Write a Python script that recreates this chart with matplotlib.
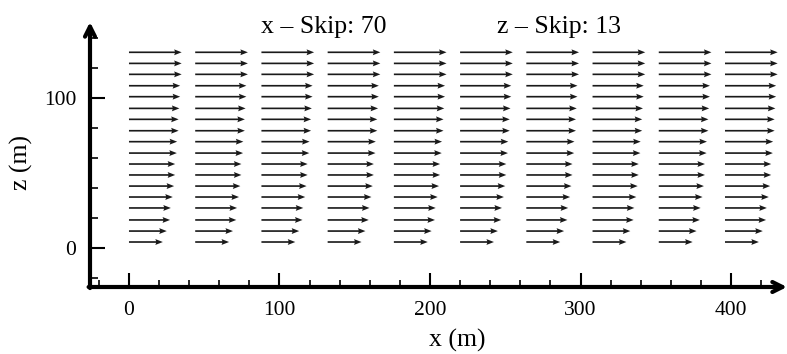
import numpy as np
import matplotlib.pyplot as plt
from matplotlib.ticker import MultipleLocator

# column positions (m) and row heights (m)
x_cols = [0, 44, 88, 132, 176, 220, 264, 308, 352, 396]
z_rows = [130.5, 123.1, 115.8, 108.2, 100.9, 93.1, 85.8, 78.2, 70.9,
          63.3, 56.0, 48.7, 41.3, 34.0, 26.7, 18.7, 11.3, 4.0]
# arrow length per row (m), top to bottom
u_rows = [35, 35, 35, 34, 34, 33.5, 33, 33, 32,
          31.8, 30.7, 30.7, 30, 29.1, 27.8, 27.3, 25.1, 22.5]
x_ticks = [0, 100, 200, 300, 400]
z_ticks = [0, 100]

plt.rcParams['font.family'] = ['Liberation Serif', 'DejaVu Serif']

fig = plt.figure(figsize=(7.87, 3.54), dpi=100)
ax = fig.add_axes([90/787, 1-287/354, 697/787, 265/354])

X, Z = np.meshgrid(x_cols, z_rows)
U = np.repeat(np.array(u_rows)[:, None], len(x_cols), axis=1)
V = np.zeros_like(U)
ax.quiver(X, Z, U, V, angles='xy', scale_units='xy', scale=1,
          width=0.0024, headwidth=3.5, headlength=4.5, headaxislength=4,
          color='#1a1a1a')

ax.set_xlim(-25.9, 437.2)
ax.set_ylim(-26, 150.7)

for s in ax.spines.values():
    s.set_visible(False)

# axis lines with arrow heads
ax.annotate('', xy=(1.0, 0), xytext=(-0.002, 0), xycoords='axes fraction',
            arrowprops=dict(arrowstyle='->', lw=3, color='black', mutation_scale=18,
                            shrinkA=0, shrinkB=0))
ax.annotate('', xy=(0, 1.0), xytext=(0, -0.004), xycoords='axes fraction',
            arrowprops=dict(arrowstyle='->', lw=3, color='black', mutation_scale=18,
                            shrinkA=0, shrinkB=0))

ax.set_xticks(x_ticks)
ax.set_yticks(z_ticks)
ax.xaxis.set_minor_locator(MultipleLocator(20))
ax.yaxis.set_minor_locator(MultipleLocator(20))
ax.tick_params(which='both', direction='in', top=False, right=False, labelsize=15.5,
               color='black')
ax.tick_params(axis='x', which='major', length=10, width=1.5, pad=10)
ax.tick_params(axis='x', which='minor', length=5, width=1.2)
ax.tick_params(axis='y', which='major', length=11, width=1.5, pad=10)
ax.tick_params(axis='y', which='minor', length=6, width=1.2)

ax.set_xlabel('x (m)', fontsize=18.5)
ax.xaxis.set_label_coords(0.527, -0.158)
ax.set_ylabel('z (m)', fontsize=18.5)
ax.yaxis.set_label_coords(-0.082, 0.468)

fig.text(324/787, 1-27/354, 'x – Skip: 70', ha='center', va='center', fontsize=18.5)
fig.text(559/787, 1-27/354, 'z – Skip: 13', ha='center', va='center', fontsize=18.5)

fig.savefig('out.png', dpi=100)
